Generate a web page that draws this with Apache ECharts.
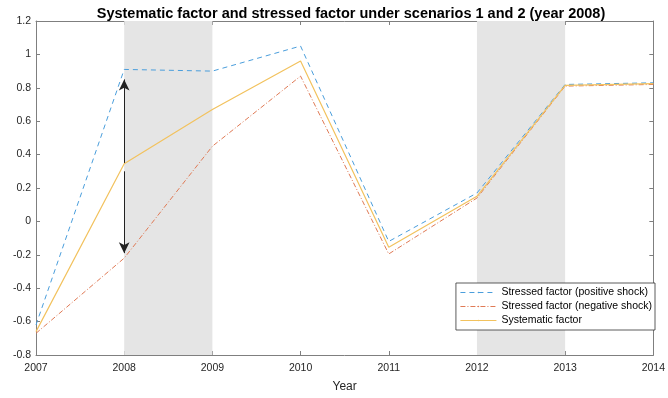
<!DOCTYPE html>
<html><head><meta charset="utf-8">
<script src="https://cdn.jsdelivr.net/npm/echarts@6/dist/echarts.min.js"></script>
<style>html,body{margin:0;padding:0;background:#fff}#c{width:668px;height:398px}</style>
</head><body><div id="c"></div>
<script>
const years = [2007, 2008, 2009, 2010, 2011, 2012, 2013, 2014];
const positiveShock = [-0.62, 0.91, 0.90, 1.05, -0.12, 0.17, 0.82, 0.83];
const negativeShock = [-0.67, -0.22, 0.45, 0.87, -0.195, 0.14, 0.81, 0.82];
const systematic = [-0.66, 0.345, 0.67, 0.96, -0.155, 0.15, 0.815, 0.825];
const shadedPeriods = [[2008, 2009], [2012, 2013]];
const arrowUp = [[2008, 0.35], [2008, 0.85]];
const arrowDown = [[2008, 0.30], [2008, -0.19]];
const seriesNames = ['Stressed factor (positive shock)', 'Stressed factor (negative shock)', 'Systematic factor'];
const title = 'Systematic factor and stressed factor under scenarios 1 and 2 (year 2008)';

const pair = (xs, ys) => xs.map((x, i) => [x, ys[i]]);
const font = 'Liberation Sans, Arial, sans-serif';
const axisCol = '#262626';
const fmtY = v => (Math.round(v * 10) / 10).toString();
const boxLine = {show: true, onZero: false, lineStyle: {color: '#7f7f7f', width: 1}};
const tick = {inside: true, length: 4, lineStyle: {color: '#7f7f7f'}};

const chart = echarts.init(document.getElementById('c'), null, {renderer: 'canvas'});
chart.setOption({
  animation: false,
  backgroundColor: '#fff',
  title: {text: title, left: 346, textAlign: 'center', top: 1,
    textStyle: {fontFamily: font, fontSize: 14.5, fontWeight: 'bold', color: '#000'}},
  grid: {left: 36, right: 12, top: 21, bottom: 38, containLabel: false},
  legend: {
    orient: 'vertical', right: 13, top: 283, itemWidth: 36, itemHeight: 2, itemGap: 3,
    backgroundColor: '#fff', borderColor: '#333', borderWidth: 0.8, padding: [4, 3, 4, 4],
    lineStyle: {width: 1},
    textStyle: {fontFamily: font, fontSize: 10.5, color: '#000'},
    data: seriesNames
  },
  xAxis: [{
    type: 'value', min: 2007, max: 2014, interval: 1,
    name: 'Year', nameLocation: 'middle', nameGap: 26,
    nameTextStyle: {fontFamily: font, fontSize: 12, color: axisCol},
    axisLine: boxLine, axisTick: tick,
    axisLabel: {fontFamily: font, fontSize: 10.5, color: axisCol, margin: 8, formatter: v => String(v)},
    splitLine: {show: false}
  }, {
    type: 'value', position: 'top', min: 2007, max: 2014, interval: 1,
    axisLine: boxLine, axisTick: tick,
    axisLabel: {show: false}, splitLine: {show: false}
  }],
  yAxis: [{
    type: 'value', min: -0.8, max: 1.2, interval: 0.2,
    axisLine: boxLine, axisTick: tick,
    axisLabel: {fontFamily: font, fontSize: 10.5, color: axisCol, margin: 5, formatter: fmtY},
    splitLine: {show: false}
  }, {
    type: 'value', position: 'right', min: -0.8, max: 1.2, interval: 0.2,
    axisLine: boxLine, axisTick: tick,
    axisLabel: {show: false}, splitLine: {show: false}
  }],
  series: [{
    name: seriesNames[0], type: 'line', data: pair(years, positiveShock),
    showSymbol: false, symbol: 'none', color: '#4a9edc',
    lineStyle: {width: 1, type: [5, 4], color: '#4a9edc'},
    markArea: {silent: true, itemStyle: {color: '#e5e5e5'},
      data: shadedPeriods.map(p => [{xAxis: p[0]}, {xAxis: p[1]}])},
    z: 3
  }, {
    name: seriesNames[1], type: 'line', data: pair(years, negativeShock),
    showSymbol: false, symbol: 'none', color: '#e07a55',
    lineStyle: {width: 1, type: [5, 2, 1, 2], color: '#e07a55'}, z: 3
  }, {
    name: seriesNames[2], type: 'line', data: pair(years, systematic),
    showSymbol: false, symbol: 'none', color: '#f2c25e',
    lineStyle: {width: 1.2, color: '#f2c25e'}, z: 3,
    markLine: {
      silent: true, symbol: ['none', 'arrow'], symbolSize: [8, 11],
      label: {show: false},
      lineStyle: {color: '#222', width: 1, type: 'solid'},
      data: [
        [{coord: arrowUp[0]}, {coord: arrowUp[1]}],
        [{coord: arrowDown[0]}, {coord: arrowDown[1]}]
      ]
    }
  }]
});
</script></body></html>
